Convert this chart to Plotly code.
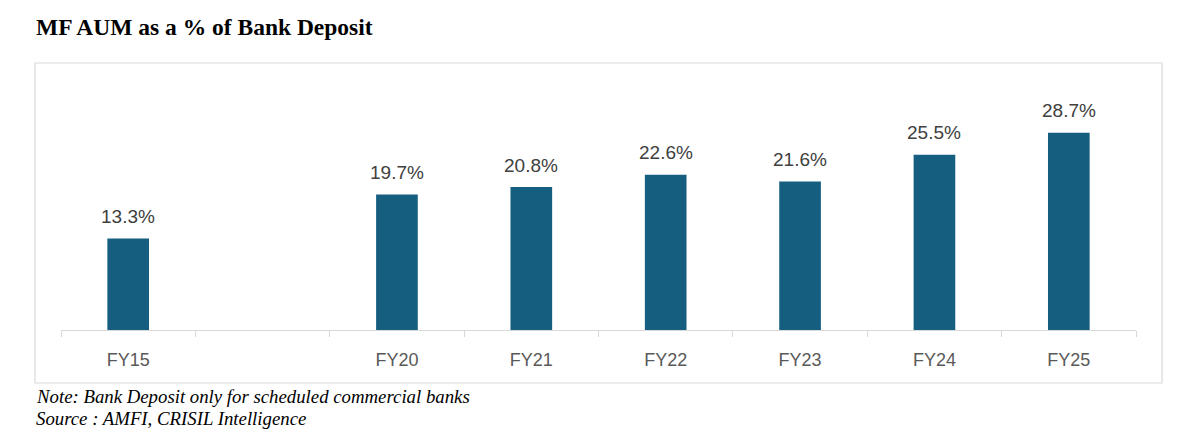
import plotly.graph_objects as go

categories = ["FY15", " ", "FY20", "FY21", "FY22", "FY23", "FY24", "FY25"]
values = [13.3, None, 19.7, 20.8, 22.6, 21.6, 25.5, 28.7]
labels = ["13.3%", "", "19.7%", "20.8%", "22.6%", "21.6%", "25.5%", "28.7%"]

title_text = "MF AUM as a % of Bank Deposit"
note_text = "Note: Bank Deposit only for scheduled commercial banks"
source_text = "Source : AMFI, CRISIL Intelligence"

OFF = 8  # page body margin
W, H = 1200 - OFF, 439 - OFF
# plot area in screen pixels
PX0, PX1, PY0, PY1 = 61, 1136, 75, 330
L, R, T, B = PX0 - OFF, W - (PX1 - OFF), PY0 - OFF, H - (PY1 - OFF)
pw, ph = W - L - R, H - T - B

def px_x(x):
    return (x - OFF - L) / pw

def px_y(y):
    return (PY1 - y) / ph

fig = go.Figure()
fig.add_trace(go.Bar(
    x=categories, y=values,
    marker=dict(color="#165E80", line=dict(width=0)),
    hoverinfo="skip",
))

for c, v, t in zip(categories, values, labels):
    if v is None:
        continue
    fig.add_annotation(x=c, y=v, text=t, showarrow=False, yanchor="middle",
                       yshift=22, font=dict(family="Liberation Sans", size=19, color="#404040"))

fig.add_shape(type="rect", xref="paper", yref="paper",
              x0=px_x(35), x1=px_x(1162), y0=px_y(383), y1=px_y(63),
              line=dict(color="#d9d9d9", width=1.2), fillcolor="rgba(0,0,0,0)", layer="below")

fig.add_annotation(xref="paper", yref="paper", x=px_x(34), y=px_y(27), xanchor="left", yanchor="middle",
                   text="<b>" + title_text + "</b>", showarrow=False,
                   font=dict(family="Liberation Serif", size=23.5, color="#000000"))
fig.add_annotation(xref="paper", yref="paper", x=px_x(34), y=px_y(396), xanchor="left", yanchor="middle",
                   text="<i>" + note_text + "</i>", showarrow=False,
                   font=dict(family="Liberation Serif", size=18.8, color="#000000"))
fig.add_annotation(xref="paper", yref="paper", x=px_x(34), y=px_y(418), xanchor="left", yanchor="middle",
                   text="<i>" + source_text + "</i>", showarrow=False,
                   font=dict(family="Liberation Serif", size=18.8, color="#000000"))

fig.update_layout(
    width=W, height=H,
    margin=dict(l=L, r=R, t=T, b=B, autoexpand=False),
    paper_bgcolor="white", plot_bgcolor="white",
    bargap=0.69,
    showlegend=False,
    xaxis=dict(type="category", categoryorder="array", categoryarray=categories,
               showline=True, linecolor="#d9d9d9", linewidth=1.2,
               ticks="outside", tickson="boundaries", ticklen=6, tickcolor="#d9d9d9", tickwidth=1.2,
               showgrid=False, ticklabelstandoff=13,
               tickfont=dict(family="Liberation Sans", size=18, color="#595959")),
    yaxis=dict(range=[0, 37.1], visible=False, showgrid=False, zeroline=False),
)

fig.write_html("out.html")
